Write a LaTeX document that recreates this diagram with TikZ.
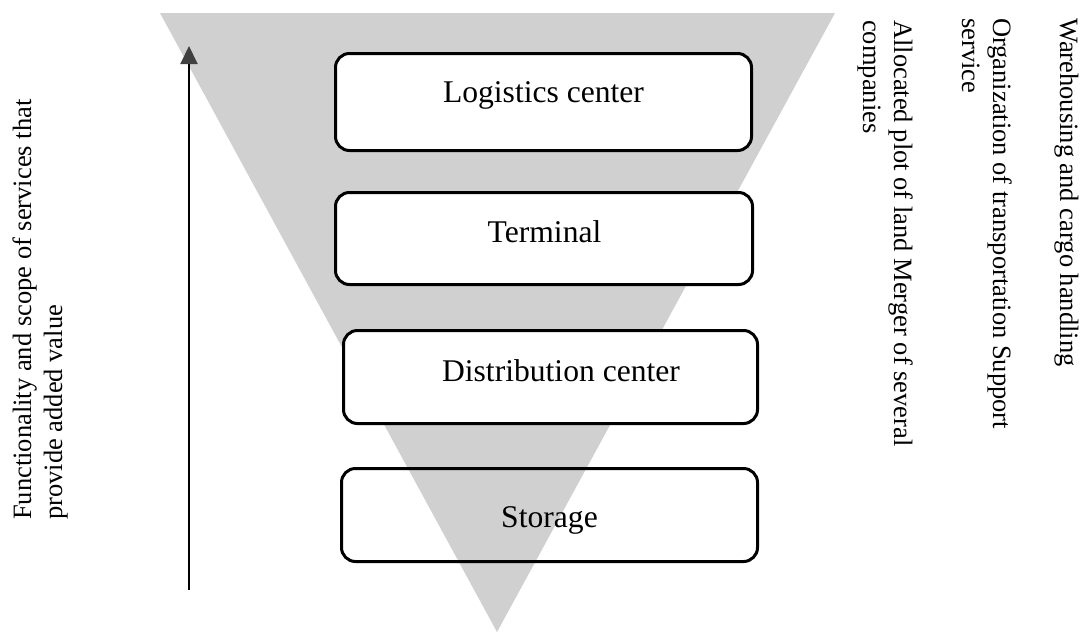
\documentclass[tikz,border=0pt]{standalone}
\usepackage{fontspec}
\setmainfont{Liberation Serif}
\usetikzlibrary{arrows.meta}
\definecolor{trigray}{RGB}{208,208,208}
\definecolor{arrowgray}{RGB}{64,64,64}
\tikzset{
  levelbox/.style={draw=black, line width=3pt, rounded corners=14pt, rectangle, inner sep=0pt},
  leveltext/.style={anchor=base, inner sep=0pt, font=\fontsize{31.6}{38}\selectfont},
  sidetext/.style={inner sep=0pt, align=left, anchor=base west, font=\fontsize{26.5}{31}\selectfont},
  axisarrow/.style={line width=2pt, -{Triangle[width=17pt,length=18pt,color=arrowgray]}}
}
\begin{document}
\begin{tikzpicture}[x=1pt,y=-1pt]
\useasboundingbox (0,0) rectangle (1081,632);
% funnel
\fill[trigray] (160,13) -- (835,13) -- (497,632) -- cycle;
% boxes
\node[levelbox, fill=white, minimum width=416pt, minimum height=97pt] (logbox) at (543.5,102) {};
\node[levelbox, fill=white, minimum width=417pt, minimum height=92pt] (termbox) at (544,238.5) {};
\node[levelbox, fill=white, minimum width=414pt, minimum height=93pt] (distbox) at (550.5,377) {};
\node[levelbox, minimum width=416pt, minimum height=93pt] (storbox) at (549.5,515) {};
% box texts
\node[leveltext] (logtxt) at (543.5,102) {Logistics center};
\node[leveltext] (termtxt) at (544.5,242) {Terminal};
\node[leveltext] (disttxt) at (561,381) {Distribution center};
\node[leveltext] (stortxt) at (549.5,527) {Storage};
% axis arrow
\coordinate (arrbot) at (189,590);
\coordinate (arrtop) at (189,46);
\draw[axisarrow] (arrbot) -- (arrtop);
% left label (base anchor = baseline of last line)
\node[sidetext, rotate=90] (axislabel) at (62,520) {Functionality and scope of services that\\provide added value};
% right labels
\node[sidetext, rotate=-90] (warehouse) at (1060,18) {Warehousing and cargo handling};
\node[sidetext, rotate=-90] (organiz) at (962,18) {Organization of transportation Support\\service};
\node[sidetext, rotate=-90] (allocated) at (863,20) {Allocated plot of land Merger of several\\companies};
\end{tikzpicture}
\end{document}
